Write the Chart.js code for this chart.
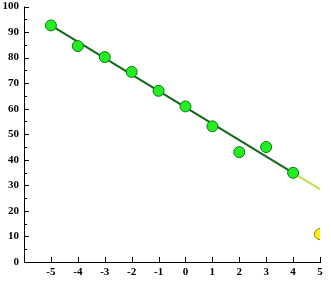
<!DOCTYPE html>
<html>
<head>
<meta charset="utf-8">
<script src="https://cdn.jsdelivr.net/npm/chart.js@4/dist/chart.umd.min.js"></script>
<style>
  html, body { margin: 0; padding: 0; background: #fff; }
  #wrap { width: 331px; height: 281px; }
</style>
</head>
<body>
<div id="wrap"><canvas id="c"></canvas></div>
<script>
// data
const xValues = [-5, -4, -3, -2, -1, 0, 1, 2, 3, 4];
const yValues = [92.6, 84.5, 80.2, 74.4, 67, 60.9, 53.1, 43, 45, 34.9];
const predX = [5];
const predY = [10.9];
const fitX = [-5, 4];
const fitY = [92.6, 34.9];
const extX = [4, 5];
const extY = [34.9, 28.5];
const xTicks = [-5, -4, -3, -2, -1, 0, 1, 2, 3, 4, 5];
const yTicks = [0, 10, 20, 30, 40, 50, 60, 70, 80, 90, 100];

const pts = (xs, ys) => xs.map((x, i) => ({ x: x, y: ys[i] }));
const tickFont = { family: 'Liberation Serif', size: 11, weight: 'bold' };

// ticks drawn inside the plot, from the scales
const innerTicks = {
  id: 'innerTicks',
  afterDraw(chart) {
    const ctx = chart.ctx;
    const xs = chart.scales.x, ys = chart.scales.y;
    const a = chart.chartArea;
    ctx.save();
    ctx.strokeStyle = '#000';
    ctx.lineWidth = 1;
    ctx.beginPath();
    ctx.moveTo(a.left + 0.5, a.top);
    ctx.lineTo(a.left + 0.5, a.bottom + 0.5);
    ctx.lineTo(a.right + 1, a.bottom + 0.5);
    xTicks.forEach(v => {
      const px = Math.round(xs.getPixelForValue(v)) + 0.5;
      ctx.moveTo(px, a.bottom);
      ctx.lineTo(px, a.bottom - 5);
    });
    for (let v = 0; v <= 100; v += 5) {
      const py = Math.round(ys.getPixelForValue(v)) + 0.5;
      ctx.moveTo(a.left, py);
      ctx.lineTo(a.left + (v % 10 === 0 ? 5 : 3), py);
    }
    ctx.stroke();
    ctx.restore();
  }
};

const noPad = s => { s.paddingTop = 0; s.paddingBottom = 0; s.paddingLeft = 0; s.paddingRight = 0; };

new Chart(document.getElementById('c'), {
  type: 'scatter',
  data: {
    datasets: [
      {
        type: 'line', data: pts(extX, extY), borderColor: '#c0dc50', borderWidth: 2,
        pointRadius: 0, fill: false, order: 3
      },
      {
        type: 'line', data: pts(fitX, fitY), borderColor: '#11661a', borderWidth: 2,
        pointRadius: 0, fill: false, order: 2
      },
      {
        data: pts(xValues, yValues), backgroundColor: '#22ee22', borderColor: '#117711',
        borderWidth: 1, pointRadius: 5.5, order: 1
      },
      {
        data: pts(predX, predY), backgroundColor: '#ffee11', borderColor: '#888800',
        borderWidth: 1, pointRadius: 5.5, order: 1
      }
    ]
  },
  options: {
    responsive: true,
    maintainAspectRatio: false,
    animation: false,
    layout: { padding: { top: 4, right: 11, left: 0, bottom: 0 } },
    plugins: { legend: { display: false }, tooltip: { enabled: false } },
    scales: {
      x: {
        type: 'linear', min: -6, max: 5,
        afterBuildTicks: s => { s.ticks = xTicks.map(v => ({ value: v })); },
        afterFit: s => { s.height = 19; noPad(s); },
        grid: { display: false, drawTicks: false },
        border: { display: false },
        ticks: { color: '#000', font: tickFont, padding: 4, maxRotation: 0 }
      },
      y: {
        min: 0, max: 100,
        afterBuildTicks: s => { s.ticks = yTicks.map(v => ({ value: v })); },
        afterFit: s => { s.width = 24; noPad(s); },
        grid: { display: false, drawTicks: false },
        border: { display: false },
        ticks: { color: '#000', font: tickFont, padding: 5 }
      }
    }
  },
  plugins: [innerTicks]
});
</script>
</body>
</html>
